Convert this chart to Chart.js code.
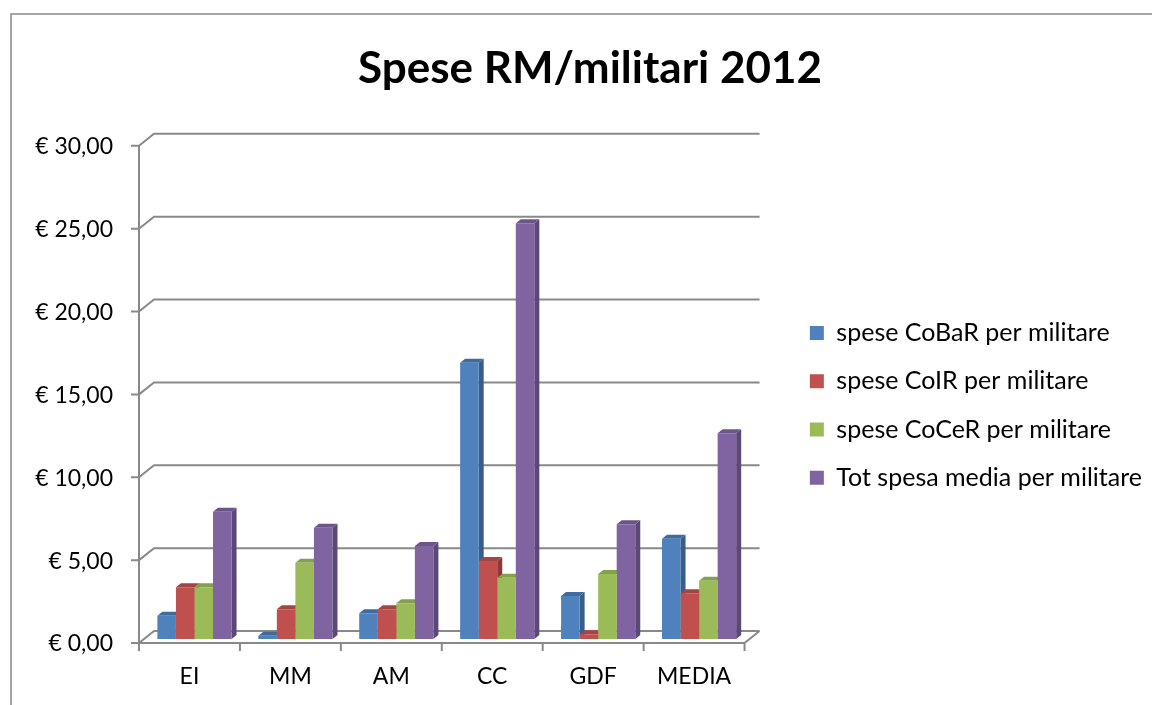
<!DOCTYPE html>
<html>
<head>
<meta charset="UTF-8">
<title>Spese RM/militari 2012</title>
<script src="https://cdn.jsdelivr.net/npm/chart.js@4.4.0/dist/chart.umd.min.js"></script>
<style>
    body { margin: 0; background: #fff; }
    canvas { display: block; }
</style>
</head>
<body>
<canvas id="chart-area" width="1152" height="705"></canvas>

<script>
    var categories = ['EI', 'MM', 'AM', 'CC', 'GDF', 'MEDIA'];
    var seriesNames = [
        'spese CoBaR per militare',
        'spese CoIR per militare',
        'spese CoCeR per militare',
        'Tot spesa media per militare'
    ];
    var speseCobar = [1.41, 0.20, 1.55, 16.67, 2.60, 6.05];
    var speseCoir = [3.12, 1.79, 1.79, 4.71, 0.28, 2.76];
    var speseCocer = [3.12, 4.60, 2.15, 3.70, 3.92, 3.52];
    var totSpesa = [7.68, 6.72, 5.61, 25.09, 6.92, 12.41];
    var yTickLabels = ['€ 0,00', '€ 5,00', '€ 10,00', '€ 15,00', '€ 20,00', '€ 25,00', '€ 30,00'];

    var frontColors = ['#4F81BD', '#C0504D', '#9BBB59', '#8064A2'];
    var sideColors = ['#385D8A', '#8C3A38', '#71893F', '#5C4776'];
    var topColors = ['#3F6C9F', '#A34542', '#84A04B', '#6C5589'];

    // bar depth; the whole 3d box is three bars deep
    var DX = 5, DY = 4;
    var axisFont = { family: 'Lato', size: 23 };
    var legendFont = { family: 'Lato', size: 25 };

    var box3d = {
        id: 'box3d',
        afterInit: function(chart) {
            // the legend is wider than chart.js normally lets a side box be
            var legend = chart.legend;
            var update = legend.update;
            legend.update = function(maxWidth, maxHeight, margins) {
                return update.call(this, 420, maxHeight, margins);
            };
        },
        beforeDraw: function(chart) {
            var ctx = chart.ctx;
            ctx.save();
            ctx.fillStyle = '#fff';
            ctx.fillRect(0, 0, chart.width, chart.height);
            ctx.strokeStyle = '#888';
            ctx.lineWidth = 1.5;
            ctx.strokeRect(11, 14, chart.width + 20, chart.height + 20);
            ctx.restore();
        },
        beforeDatasetsDraw: function(chart) {
            var ctx = chart.ctx, a = chart.chartArea;
            var ys = chart.scales.y;
            var fl = a.left - DX, fr = a.right - DX;
            var bl = a.left + 2 * DX, br = a.right + 2 * DX;
            ctx.save();
            ctx.strokeStyle = '#898989';
            ctx.lineWidth = 2;
            ctx.beginPath();
            ys.ticks.forEach(function(t) {
                var py = ys.getPixelForValue(t.value);
                ctx.moveTo(fl - 8, py + DY);
                ctx.lineTo(fl, py + DY);
                ctx.lineTo(bl, py - 2 * DY);
                ctx.lineTo(br, py - 2 * DY);
            });
            ctx.moveTo(fl, ys.getPixelForValue(ys.max) + DY);
            ctx.lineTo(fl, a.bottom + DY + 8);
            ctx.moveTo(fl, a.bottom + DY);
            ctx.lineTo(fr, a.bottom + DY);
            ctx.lineTo(br, a.bottom - 2 * DY);
            for (var i = 1; i <= categories.length; i++) {
                var px = fl + (fr - fl) * i / categories.length;
                ctx.moveTo(px, a.bottom + DY);
                ctx.lineTo(px, a.bottom + DY + 8);
            }
            ctx.stroke();

            // sides and tops of the bars, fronts are drawn by chart.js on top
            chart.data.datasets.forEach(function(ds, di) {
                chart.getDatasetMeta(di).data.forEach(function(bar) {
                    var p = bar.getProps(['x', 'y', 'base', 'width'], true);
                    var l = p.x - p.width / 2, r = p.x + p.width / 2;
                    ctx.fillStyle = sideColors[di];
                    ctx.beginPath();
                    ctx.moveTo(r, p.y);
                    ctx.lineTo(r + DX, p.y - DY);
                    ctx.lineTo(r + DX, p.base - DY);
                    ctx.lineTo(r, p.base);
                    ctx.closePath();
                    ctx.fill();
                    ctx.fillStyle = topColors[di];
                    ctx.beginPath();
                    ctx.moveTo(l, p.y);
                    ctx.lineTo(l + DX, p.y - DY);
                    ctx.lineTo(r + DX, p.y - DY);
                    ctx.lineTo(r, p.y);
                    ctx.closePath();
                    ctx.fill();
                });
            });
            ctx.restore();
        }
    };

    var seriesData = [speseCobar, speseCoir, speseCocer, totSpesa];

    var config = {
        type: 'bar',
        data: {
            labels: categories,
            datasets: seriesData.map(function(values, i) {
                return {
                    label: seriesNames[i],
                    data: values,
                    backgroundColor: frontColors[i],
                    borderWidth: 0,
                    categoryPercentage: 0.735,
                    barPercentage: 1.0
                };
            })
        },
        options: {
            responsive: false,
            animation: false,
            layout: { padding: { left: 28 } },
            plugins: {
                title: {
                    display: true,
                    text: 'Spese RM/militari 2012',
                    color: '#000',
                    font: { family: 'Lato', size: 44, weight: 'bold' },
                    padding: { top: 42, bottom: 47 }
                },
                legend: {
                    position: 'right',
                    fullSize: false,
                    align: 'center',
                    title: { display: true, text: ' ', font: { size: 10 }, padding: 9 },
                    labels: {
                        boxWidth: 14,
                        boxHeight: 14,
                        padding: 23.3,
                        color: '#000',
                        font: legendFont
                    }
                },
                tooltip: { enabled: false }
            },
            scales: {
                x: {
                    grid: { display: false, drawTicks: false },
                    border: { display: false },
                    ticks: { color: '#000', font: axisFont, padding: 24, labelOffset: -5 },
                    afterFit: function(s) { s.height = 66; }
                },
                y: {
                    min: 0,
                    max: 30,
                    grid: { display: false, drawTicks: false },
                    border: { display: false },
                    ticks: {
                        stepSize: 5,
                        color: '#000',
                        font: axisFont,
                        padding: 31,
                        labelOffset: 5,
                        callback: function(value, index) { return yTickLabels[index]; }
                    },
                    afterFit: function(s) { s.width = 116; }
                },
                yR: {
                    position: 'right',
                    grid: { display: false, drawTicks: false },
                    border: { display: false },
                    ticks: { display: false },
                    afterFit: function(s) { s.width = 37; }
                }
            }
        },
        plugins: [box3d]
    };

    window.onload = function() {
        var ctx = document.getElementById('chart-area').getContext('2d');
        window.myBar = new Chart(ctx, config);
    };
</script>
</body>
</html>
